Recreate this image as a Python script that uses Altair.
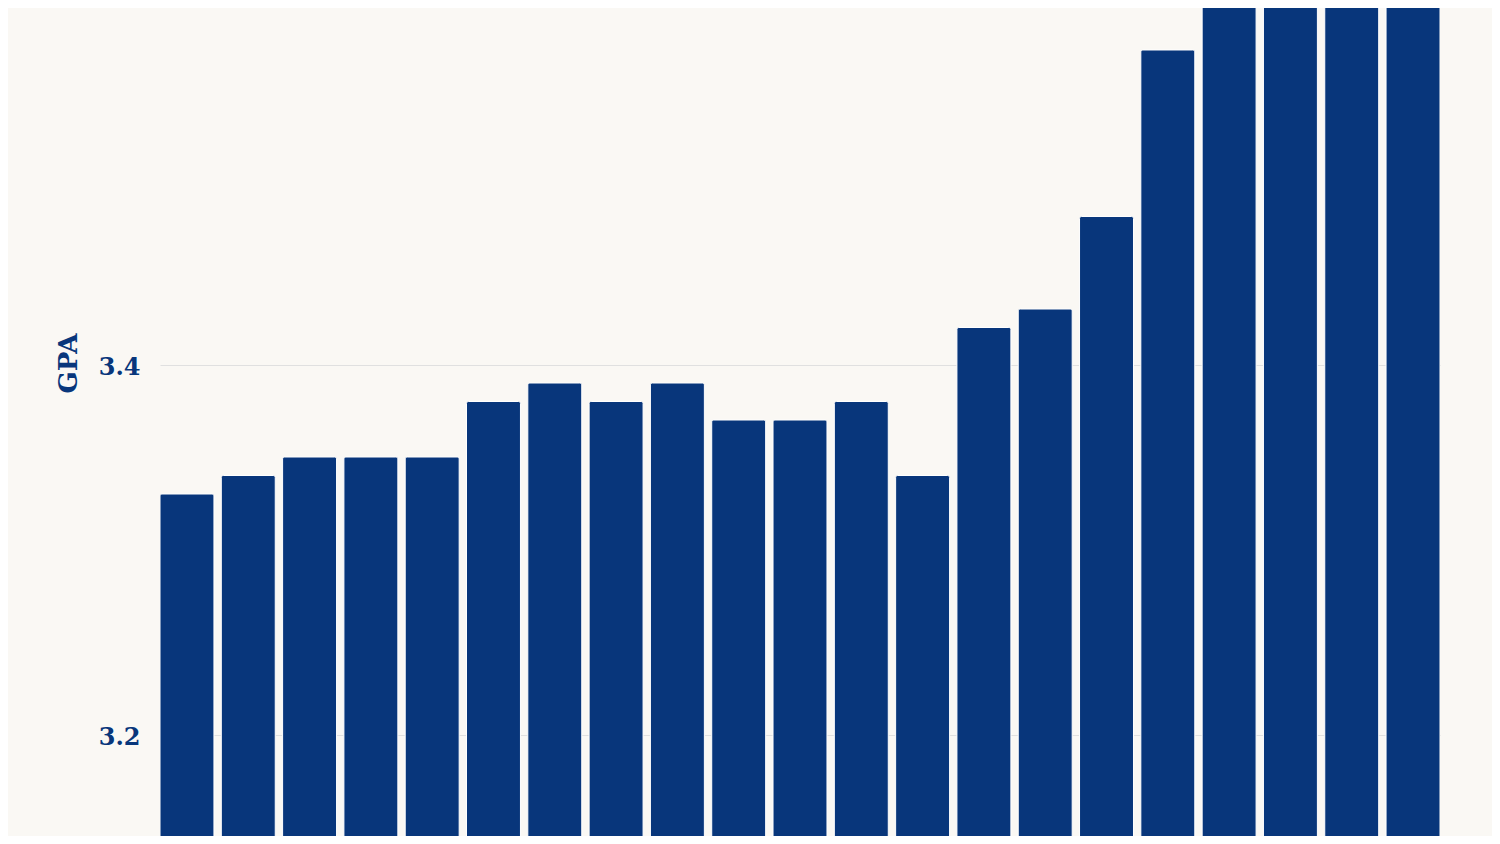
import altair as alt
import pandas as pd

years = [str(y) for y in range(2002, 2023)]
gpa = [3.33, 3.34, 3.35, 3.35, 3.35, 3.38, 3.39, 3.38, 3.39, 3.37, 3.37,
       3.38, 3.34, 3.42, 3.43, 3.48, 3.57, 3.62, 3.63, 3.64, 3.65]
y_ticks = [3.2, 3.4, 3.6]

df = pd.DataFrame({"year": years, "gpa": gpa})

NAVY = "#08367b"
BG = "#faf8f4"

chart = alt.Chart(df).mark_bar(
    color=NAVY,
    stroke="white",
    strokeWidth=1,
    cornerRadiusTopLeft=2,
    cornerRadiusTopRight=2,
    clip=True,
).encode(
    x=alt.X("year:N", sort=years, axis=None,
            scale=alt.Scale(paddingInner=0.12, paddingOuter=0)),
    y=alt.Y("gpa:Q", title="GPA",
            scale=alt.Scale(domain=[3.14514, 3.5927], zero=False, nice=False),
            axis=alt.Axis(values=y_ticks, format=".1f", ticks=False, domain=False,
                          grid=True, gridColor="#e0e0e0", gridWidth=1,
                          labelFont="DejaVu Serif", labelFontSize=24,
                          labelFontWeight="bold", labelColor=NAVY,
                          labelPadding=20, labelOffset=3,
                          titleFont="DejaVu Serif", titleFontSize=26,
                          titleFontWeight="bold", titleColor=NAVY,
                          titleAngle=270, titleAlign="center",
                          titleBaseline="middle", titleX=-92, titleY=355)),
    y2=alt.datum(3.0),
).properties(
    width=1280,
    height=828,
    background=BG,
    padding={"left": 152, "top": 0, "right": 52, "bottom": 0},
    autosize=alt.AutoSizeParams(type="none"),
).configure_view(stroke=None)

chart.save("out.html", embed_options={"renderer": "svg", "actions": False})
